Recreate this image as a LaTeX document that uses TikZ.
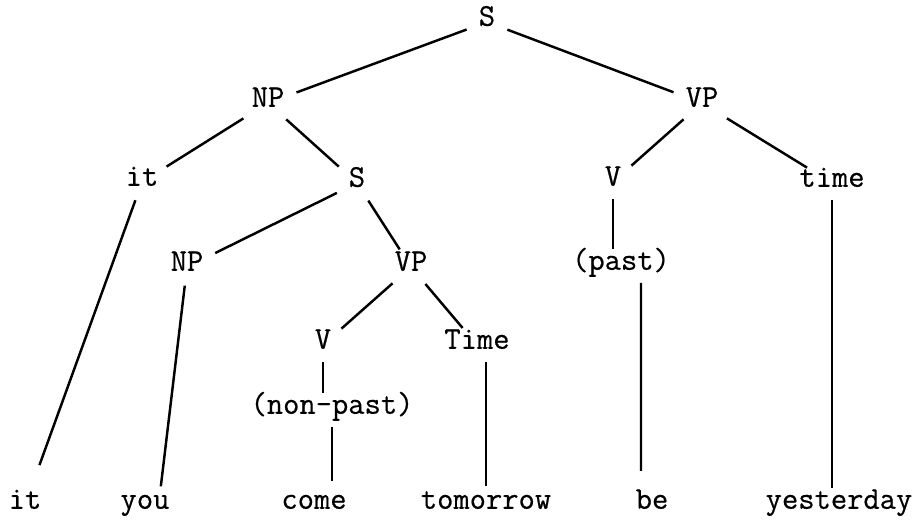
\documentclass[tikz,border=0pt]{standalone}
\usepackage{fontspec}
\setmonofont[FakeBold=0.5]{Latin Modern Mono}
\usepackage{tikz}

\begin{document}
\begin{tikzpicture}[
      font=\fontsize{18}{20}\ttfamily\bfseries,
      every node/.style={inner sep=3pt, text height=1.3ex, text depth=0.3ex},
      edge/.style={line width=1.4pt, shorten <=4pt, shorten >=4pt},
      stem/.style={line width=1.4pt, shorten <=3pt, shorten >=3pt}
  ]
  \useasboundingbox (0,0) rectangle (18.32,10.4);

  % Nodes ------------------------------------------------
  \node (s)       at (9.74,9.96) {S};
  \node (np)      at (5.36,8.34) {NP};
  \node (vp)      at (14.04,8.34) {VP};
  \node (it)      at (2.84,6.76) {it};
  \node (sub)     at (7.14,6.74) {S};
  \node (v)       at (12.26,6.76) {V};
  \node (time)    at (16.64,6.74) {time};
  \node (subnp)   at (3.74,5.06) {NP};
  \node (subvp)   at (8.22,5.06) {VP};
  \node (past)    at (12.42,5.08) {(past)};
  \node (subv)    at (6.46,3.5) {V};
  \node (subtime) at (9.54,3.5) {Time};
  \node (nonpast) at (6.64,2.2) {(non-past)};

  % words along the bottom
  \node (itw)       at (0.5,0.3)   {it};
  \node (you)       at (2.9,0.3)   {you};
  \node (come)      at (6.28,0.3)  {come};
  \node (tomorrow)  at (9.72,0.3)  {tomorrow};
  \node (be)        at (13.04,0.3) {be};
  \node (yesterday) at (16.78,0.3) {yesterday};

  % Branches ---------------------------------------------
  \draw[edge] (s) -- (np);
  \draw[edge] (s) -- (vp);
  \draw[edge] (np) -- (it);
  \draw[edge] (np) -- (sub);
  \draw[edge] (sub) -- (subnp);
  \draw[edge] (sub) -- (subvp);
  \draw[edge] (subvp) -- (subv);
  \draw[edge] (subvp) -- (subtime);
  \draw[edge] (vp) -- (v);
  \draw[edge] (vp) -- (time);
  \draw[stem] (subv.south) -- (subv.south |- nonpast.north);
  \draw[stem] (v.south) -- (v.south |- past.north);

  % down to the words
  \draw[edge, shorten >=0.6cm] (it) -- (itw);
  \draw[edge] (subnp) -- ([xshift=0.3cm]you.north);
  \draw[stem, shorten >=0.25cm] (nonpast.south) -- (nonpast.south |- come.north);
  \draw[stem, shorten >=0.15cm] (tomorrow.north |- subtime.south) -- (tomorrow.north);
  \draw[stem, shorten >=0.45cm] ([xshift=0.4cm]past.south) -- ([xshift=-0.22cm]be.north);
  \draw[stem] (time.south) -- (time.south |- yesterday.north);
\end{tikzpicture}
\end{document}
